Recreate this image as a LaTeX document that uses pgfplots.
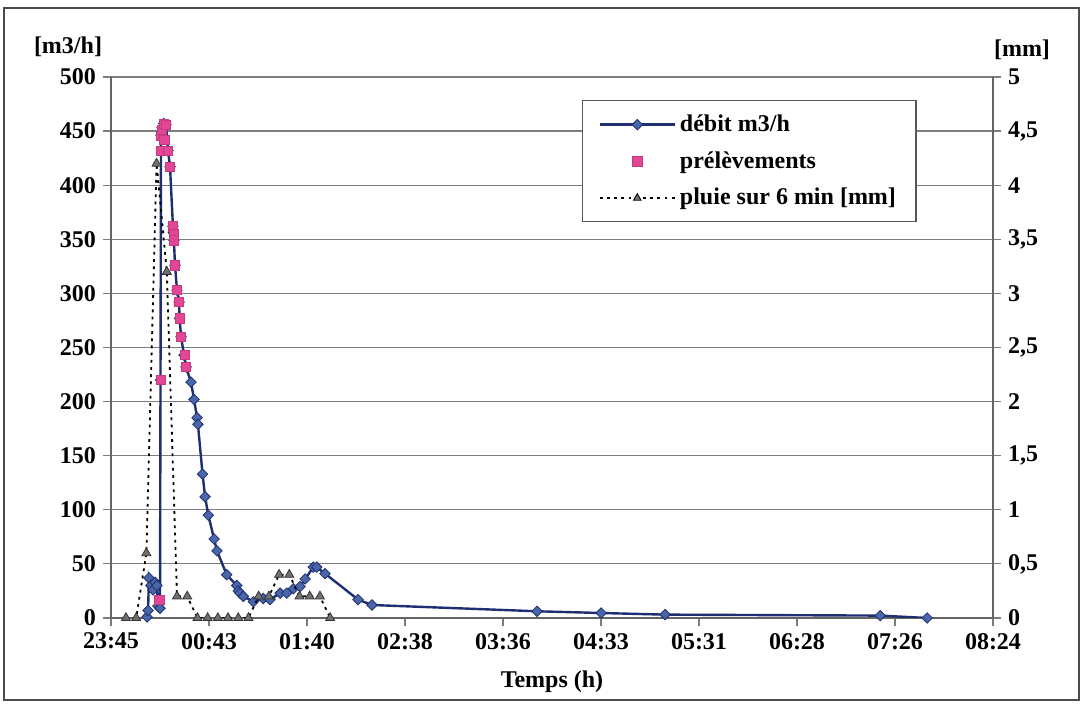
\documentclass[border=0pt]{standalone}
\usepackage{fontspec}
\setmainfont{Liberation Serif}
\usepackage{pgfplots}
\pgfplotsset{compat=1.18}

\definecolor{debitline}{RGB}{30,46,112}
\definecolor{debitmark}{RGB}{72,102,168}
\definecolor{prelev}{RGB}{228,70,150}
\definecolor{pluiemark}{RGB}{112,112,112}
\definecolor{gridgray}{RGB}{125,125,125}

\newcommand\fs{\fontsize{12}{14}\selectfont\bfseries}

\begin{document}
\begin{tikzpicture}
% 1 px of the reference = 0.5pt
\begin{axis}[name=ax,
	scale only axis, width=441pt, height=270.5pt,
	xmin=0, xmax=518.4, ymin=0, ymax=500,
	axis x line*=bottom, axis y line*=left,
	xtick={0,57.6,115.2,172.8,230.4,288,345.6,403.2,460.8,518.4},
	xticklabels={23:45,00:43,01:40,02:38,03:36,04:33,05:31,06:28,07:26,08:24},
	ytick={0,50,...,500},
	ymajorgrids, grid style={gridgray, line width=0.6pt},
	tick align=outside, major tick length=4pt,
	tick style={gridgray, line width=0.6pt},
	axis line style={gridgray!80!black, line width=0.7pt},
	ticklabel style={font=\fs},
	/pgf/number format/assume math mode=true,
	xlabel={Temps (h)}, xlabel style={font=\fs, yshift=-4pt},
	legend style={at={(0.534,0.957)}, anchor=north west,
		draw=gridgray!70!black, line width=0.6pt, fill=white,
		font=\fs, inner xsep=8pt, inner ysep=5pt, row sep=4.5pt,
		cells={anchor=west}},
	legend image code/.code={
		\draw[mark repeat=2, mark phase=2, #1] plot coordinates {(0pt,0pt) (18.75pt,0pt) (37.5pt,0pt)};
	},
]
% debit m3/h (minutes after 23:45.6)
\addplot[debitline, line width=1.2pt, mark=square*, mark size=1.85pt,
	mark options={rotate=45, solid, fill=debitmark, draw=debitline, line width=0.4pt}]
	coordinates {
	(21.2,1) (21.8,7) (22.3,37) (23.5,30) (24.7,26) (25.9,33) (27.0,30) (27.6,11)
	(28.8,9) (29.1,220) (29.4,446) (30.0,453) (30.9,457) (32.3,456) (33.5,432)
	(34.7,417) (36.4,362) (36.7,356) (37.0,349) (37.6,326) (38.8,303) (40.0,292)
	(40.3,277) (41.2,260) (42.9,243) (44.1,232) (47.0,218) (48.8,202) (50.6,185)
	(51.1,179) (53.8,133) (55.3,112) (57.2,95) (60.6,73) (62.3,62) (68.0,40)
	(73.9,30) (74.8,25) (75.8,23) (77.8,20) (83.7,15) (89.5,18) (93.5,17)
	(99.4,23) (103.3,23) (107.2,27) (111.1,29) (114.1,36) (118.9,47) (120.9,47)
	(125.8,41) (145.2,17) (153.4,12) (250.4,6.2) (288.1,4.6) (325.7,3.1)
	(452.1,2.2) (479.7,0)
	};
\addlegendentry{débit m3/h}
% prelevements
\addplot[only marks, mark=square*, mark size=2.3pt,
	mark options={fill=prelev, draw=prelev!85!black, line width=0.3pt}]
	coordinates {
	(28.4,17) (29.1,220) (29.4,432) (29.6,446) (29.8,451) (30.9,457) (32.3,456)
	(31.3,442) (33.5,432) (34.7,417) (36.4,362) (36.7,355) (37.0,349) (37.6,326)
	(38.8,303) (40.0,292) (40.3,277) (41.2,260) (43.5,243) (43.9,232)
	};
\addlegendentry{prélèvements}
\addlegendimage{black, line width=0.9pt, dash pattern=on 1.4pt off 2.2pt,
	mark=triangle*, mark size=2.2pt,
	mark options={solid, fill=pluiemark, draw=black, line width=0.4pt}}
\addlegendentry{pluie sur 6 min [mm]}
\end{axis}

\begin{axis}[
	scale only axis, width=441pt, height=270.5pt,
	xmin=0, xmax=518.4, ymin=0, ymax=5,
	axis x line=none, axis y line*=right,
	ytick={0,0.5,1,1.5,2,2.5,3,3.5,4,4.5,5},
	yticklabel style={font=\fs, /pgf/number format/.cd, use comma, fixed, assume math mode=true},
	tick align=outside, major tick length=4pt,
	tick style={gridgray, line width=0.6pt},
	axis line style={gridgray!80!black, line width=0.7pt},
]
% pluie sur 6 min [mm]
\addplot[black, line width=0.9pt, dash pattern=on 1.4pt off 2.2pt,
	mark=triangle*, mark size=2.6pt,
	mark options={solid, fill=pluiemark, draw=black!80, line width=0.4pt}]
	coordinates {
	(8.8,0) (14.8,0) (20.8,0.6) (26.8,4.2) (32.8,3.2) (38.8,0.2) (44.8,0.2)
	(50.8,0) (56.8,0) (62.8,0) (68.8,0) (74.8,0) (80.8,0) (86.8,0.2) (92.8,0.2)
	(98.8,0.4) (104.8,0.4) (110.8,0.2) (116.8,0.2) (122.8,0.2) (128.8,0)
	};
\end{axis}

\node[font=\fs] at ([shift={(-21.5pt,15pt)}]ax.north west) {[m3/h]};
\node[font=\fs] at ([shift={(14.5pt,13.5pt)}]ax.north east) {[mm]};
\draw[gray!60!black, line width=0.7pt]
	([shift={(-53.5pt,-41pt)}]ax.south west) rectangle ([shift={(43pt,34.5pt)}]ax.north east);
\path[use as bounding box]
	([shift={(-55.5pt,-43pt)}]ax.south west) rectangle ([shift={(45pt,38.5pt)}]ax.north east);
\end{tikzpicture}
\end{document}
